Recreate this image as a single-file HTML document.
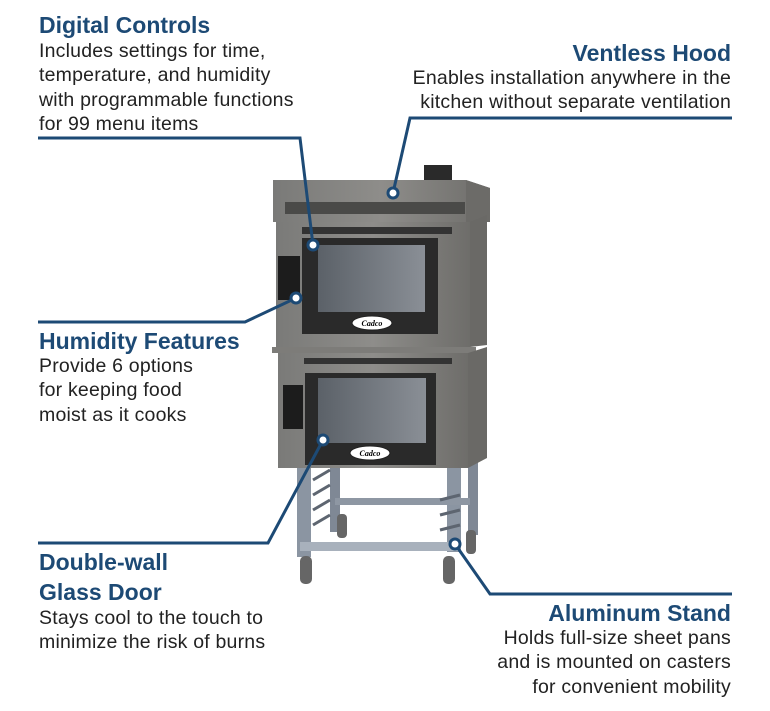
<!DOCTYPE html>
<html><head><style>
body{margin:0;background:#fff;width:770px;height:711px;overflow:hidden;font-family:"Liberation Sans",sans-serif;position:relative}
.h{position:absolute;color:#1d4a75;font-weight:bold;font-size:23px;line-height:30px}
.t{position:absolute;color:#222;font-size:19.5px;line-height:24.3px;letter-spacing:0.2px}
.r{text-align:right}
</style></head><body>
<svg width="770" height="711" style="position:absolute;left:0;top:0">
<defs>
<linearGradient id="g" x1="0" x2="1"><stop offset="0" stop-color="#7a7a78"/><stop offset=".5" stop-color="#8e8d8a"/><stop offset="1" stop-color="#6e6d6a"/></linearGradient>
<linearGradient id="gl" x1="0" x2="1"><stop offset="0" stop-color="#5b6168"/><stop offset="1" stop-color="#8a8f96"/></linearGradient>
</defs>
<rect x="297" y="462" width="14" height="95" fill="#8b95a2"/>
<rect x="447" y="462" width="14" height="90" fill="#8b95a2"/>
<rect x="468" y="455" width="10" height="80" fill="#7f8895"/>
<rect x="330" y="462" width="10" height="70" fill="#7f8895"/>
<rect x="300" y="542" width="160" height="9" fill="#a8b1bc"/>
<rect x="335" y="498" width="135" height="7" fill="#8e97a3"/>
<g stroke="#5d6570" stroke-width="3"><line x1="313" y1="480" x2="330" y2="470"/><line x1="313" y1="495" x2="330" y2="485"/><line x1="313" y1="510" x2="330" y2="500"/><line x1="313" y1="525" x2="330" y2="515"/><line x1="440" y1="500" x2="460" y2="495"/><line x1="440" y1="515" x2="460" y2="510"/><line x1="440" y1="530" x2="460" y2="525"/></g>
<rect x="300" y="556" width="12" height="28" rx="5" fill="#666"/>
<rect x="443" y="556" width="12" height="28" rx="5" fill="#666"/>
<rect x="337" y="514" width="10" height="24" rx="4" fill="#666"/>
<rect x="466" y="530" width="10" height="24" rx="4" fill="#666"/>
<rect x="424" y="165" width="28" height="16" fill="#2a2a2a"/>
<polygon points="273,180 466,180 490,188 490,222 273,222" fill="url(#g)"/>
<polygon points="466,180 490,188 490,222 466,222" fill="#6c6b68"/>
<rect x="285" y="202" width="180" height="12" fill="#4a4a48"/>
<rect x="276" y="222" width="194" height="125" fill="url(#g)"/>
<polygon points="470,222 487,215 487,345 470,347" fill="#6a6966"/>
<rect x="302" y="227" width="150" height="7" fill="#333"/>
<rect x="302" y="238" width="136" height="96" fill="#2a2a2a"/>
<rect x="318" y="245" width="107" height="67" fill="url(#gl)"/>
<ellipse cx="372" cy="323" rx="20" ry="7" fill="#fff" stroke="#222"/>
<text x="372" y="326" font-size="8" text-anchor="middle" font-family="Liberation Serif" font-style="italic" font-weight="bold">Cadco</text>
<rect x="278" y="256" width="22" height="44" fill="#1c1c1c"/>
<rect x="272" y="347" width="204" height="6" fill="#7d7c79"/>
<rect x="278" y="353" width="190" height="115" fill="url(#g)"/>
<polygon points="468,353 487,347 487,458 468,468" fill="#6a6966"/>
<rect x="304" y="358" width="148" height="6" fill="#333"/>
<rect x="305" y="373" width="131" height="92" fill="#2a2a2a"/>
<rect x="318" y="378" width="108" height="65" fill="url(#gl)"/>
<ellipse cx="370" cy="453" rx="20" ry="7" fill="#fff" stroke="#222"/>
<text x="370" y="456" font-size="8" text-anchor="middle" font-family="Liberation Serif" font-style="italic" font-weight="bold">Cadco</text>
<rect x="283" y="385" width="20" height="44" fill="#1c1c1c"/>
<g stroke="#1d4a75" stroke-width="3" fill="none">
<polyline points="38,138 300,138 313,245"/>
<polyline points="732,118 410,118 393,193"/>
<polyline points="38,322 245,322 296,298"/>
<polyline points="38,543 268,543 323,440"/>
<polyline points="732,594 490,594 455,544"/>
</g>
<g fill="#fff" stroke="#1d4a75" stroke-width="3">
<circle cx="313" cy="245" r="5"/><circle cx="393" cy="193" r="5"/><circle cx="296" cy="298" r="5"/><circle cx="323" cy="440" r="5"/><circle cx="455" cy="544" r="5"/>
</g>
</svg>
<div class="h" style="left:39px;top:10px">Digital Controls</div>
<div class="t" style="left:39px;top:39px">Includes settings for time,<br>temperature, and humidity<br>with programmable functions<br>for 99 menu items</div>
<div class="h r" style="right:39px;top:38px">Ventless Hood</div>
<div class="t r" style="right:39px;top:66px">Enables installation anywhere in the<br>kitchen without separate ventilation</div>
<div class="h" style="left:39px;top:326px">Humidity Features</div>
<div class="t" style="left:39px;top:354px">Provide 6 options<br>for keeping food<br>moist as it cooks</div>
<div class="h" style="left:39px;top:547px">Double-wall<br>Glass Door</div>
<div class="t" style="left:39px;top:606px">Stays cool to the touch to<br>minimize the risk of burns</div>
<div class="h r" style="right:39px;top:598px">Aluminum Stand</div>
<div class="t r" style="right:39px;top:626px">Holds full-size sheet pans<br>and is mounted on casters<br>for convenient mobility</div>
</body></html>
